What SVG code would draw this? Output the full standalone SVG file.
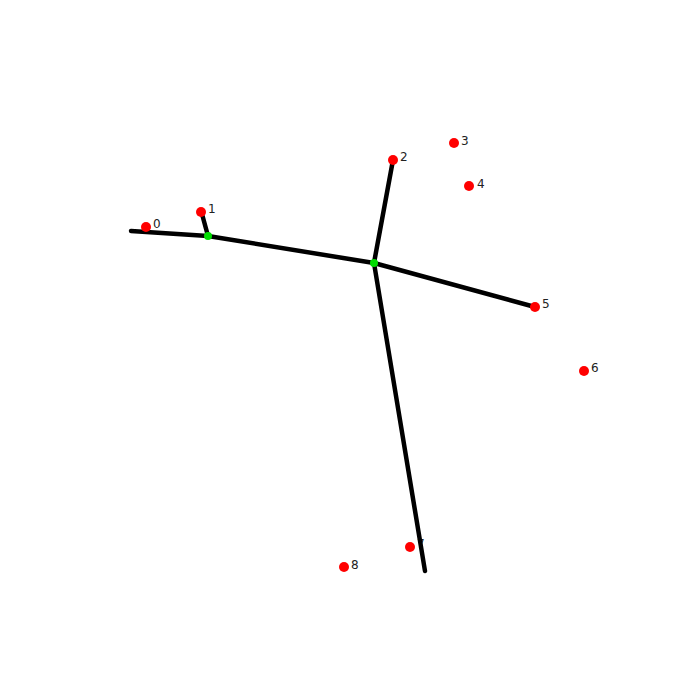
<svg xmlns="http://www.w3.org/2000/svg" width="700" height="700" viewBox="0 0 700 700">
<style>
.lbl{font-family:"DejaVu Sans","Liberation Sans",sans-serif;font-size:12px;fill:#222}
.e{stroke:#000;stroke-width:4.5;stroke-linecap:round;fill:none}
.p{fill:#ff0000}
.j{fill:#00dd00}
</style>
<rect width="700" height="700" fill="#fff"/>
<g id="labels">
<text class="lbl" x="153" y="228">0</text>
<text class="lbl" x="208" y="213">1</text>
<text class="lbl" x="400" y="161">2</text>
<text class="lbl" x="461" y="145">3</text>
<text class="lbl" x="477" y="188">4</text>
<text class="lbl" x="542" y="308">5</text>
<text class="lbl" x="591" y="372">6</text>
<text class="lbl" x="417" y="548">7</text>
<text class="lbl" x="351" y="569">8</text>
</g>
<g id="connectors">
<line class="e" x1="131" y1="231" x2="208" y2="236"/>
<line class="e" x1="208" y1="236" x2="374" y2="263"/>
<line class="e" x1="208" y1="236" x2="202" y2="214"/>
<line class="e" x1="374" y1="263" x2="393" y2="160"/>
<line class="e" x1="374" y1="263" x2="535" y2="307"/>
<line class="e" x1="374" y1="263" x2="425" y2="571"/>
</g>
<g id="n0"><circle class="p" cx="146" cy="227" r="5"/></g>
<g id="n1"><circle class="p" cx="201" cy="212" r="5"/></g>
<g id="n2"><circle class="p" cx="393" cy="160" r="5"/></g>
<g id="n3"><circle class="p" cx="454" cy="143" r="5"/></g>
<g id="n4"><circle class="p" cx="469" cy="186" r="5"/></g>
<g id="n5"><circle class="p" cx="535" cy="307" r="5"/></g>
<g id="n6"><circle class="p" cx="584" cy="371" r="5"/></g>
<g id="n7"><circle class="p" cx="410" cy="547" r="5"/></g>
<g id="n8"><circle class="p" cx="344" cy="567" r="5"/></g>
<g id="j1"><circle class="j" cx="208" cy="236" r="4"/></g>
<g id="j2"><circle class="j" cx="374" cy="263" r="4"/></g>
</svg>
